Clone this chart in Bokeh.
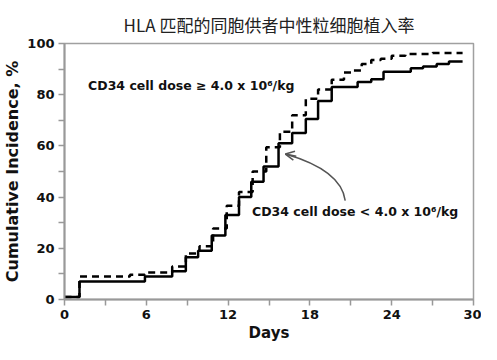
from bokeh.plotting import figure
from bokeh.models import Range1d, FixedTicker, Title, Label, Arrow, OpenHead
from bokeh.embed import file_html
from bokeh.resources import INLINE

# Cumulative incidence (step after each day value)
low_days = [0, 1.1, 5.9, 7.9, 8.9, 9.8, 10.8, 11.8, 12.8, 13.7, 14.6, 15.7, 16.7, 17.7,
            18.6, 19.6, 21.5, 22.5, 23.4, 25.4, 26.3, 27.3, 28.2, 29.2]
low_inc = [1, 7, 9, 11, 16.5, 19, 25, 33, 40, 46, 52, 61, 65, 70.5,
           77.5, 83, 85, 86, 89, 90.3, 91, 92, 93, 93]

high_days = [0, 1.1, 4.8, 5.9, 7.9, 8.9, 9.9, 10.9, 11.9, 12.8, 13.8, 14.8, 15.8, 16.7,
             17.7, 18.6, 19.6, 20.5, 21.2, 21.8, 22.5, 23.2, 24.0, 25.0, 27.0, 29.2]
high_inc = [1, 9, 9.7, 10.5, 12.9, 18, 20.8, 27.7, 36.6, 42, 50, 59.5, 65.5, 72,
            78.4, 82, 85.8, 88.7, 89.5, 92, 93.6, 94, 95.2, 95.9, 96.3, 96.3]

x_ticks = [0, 6, 12, 18, 24, 30]
x_minor = [3, 9, 15, 21, 27]
y_ticks = [0, 20, 40, 60, 80, 100]
y_minor = [10, 30, 50, 70, 90]

title_text = "HLA 匹配的同胞供者中性粒细胞植入率"
label_high = "CD34 cell dose \u2265 4.0 x 10\u2076/kg"
label_low = "CD34 cell dose < 4.0 x 10\u2076/kg"

p = figure(width=481, height=344, output_backend="svg", toolbar_location=None,
           x_range=Range1d(0, 30), y_range=Range1d(0, 100),
           min_border_left=61, min_border_right=8, min_border_top=43, min_border_bottom=44)
p.title = None
p.add_layout(Title(text=title_text, align="center", text_font="Noto Sans CJK SC",
                   text_font_size="17px", text_font_style="normal", text_color="#222222",
                   standoff=14), "above")

p.xgrid.visible = False
p.ygrid.visible = False
p.outline_line_color = "#a0a0a0"
p.outline_line_width = 1.5
p.background_fill_color = "white"
p.border_fill_color = "white"

p.step(low_days, low_inc, mode="after", line_color="black", line_width=2.5)
p.step(high_days, high_inc, mode="after", line_color="black", line_width=2.5, line_dash="7 5")

for ax, ticks, minor in ((p.xaxis[0], x_ticks, x_minor), (p.yaxis[0], y_ticks, y_minor)):
    ax.ticker = FixedTicker(ticks=ticks, minor_ticks=minor)
    ax.axis_line_color = "#999999"
    ax.axis_line_width = 2
    ax.major_tick_line_color = "#999999"
    ax.minor_tick_line_color = "#999999"
    ax.major_tick_line_width = 1.5
    ax.minor_tick_line_width = 1.5
    ax.major_tick_in = 0
    ax.major_tick_out = 6
    ax.minor_tick_in = 0
    ax.minor_tick_out = 6
    ax.major_label_text_font = "DejaVu Sans"
    ax.major_label_text_font_style = "bold"
    ax.major_label_text_font_size = "13px"
    ax.major_label_text_color = "#111111"
    ax.axis_label_text_font = "DejaVu Sans"
    ax.axis_label_text_font_style = "bold"
    ax.axis_label_text_color = "#111111"
    ax.major_label_standoff = 4
    ax.axis_label_standoff = 2

p.xaxis.axis_label = "Days"
p.xaxis.axis_label_text_font_size = "15px"
p.yaxis.axis_label = "Cumulative Incidence, %"
p.yaxis.axis_label_text_font_size = "16px"

p.add_layout(Label(x=1.73, y=83.4, text=label_high, text_font="DejaVu Sans",
                   text_font_style="bold", text_font_size="12.5px", text_baseline="middle",
                   text_color="#111111"))
p.add_layout(Label(x=13.75, y=34.4, text=label_low, text_font="DejaVu Sans",
                   text_font_style="bold", text_font_size="12.5px", text_baseline="middle",
                   text_color="#111111"))

p.quadratic(x0=[20.59], y0=[38.6], x1=[16.2], y1=[56.8], cx=[20.3], cy=[50.5],
            line_color="#555555", line_width=1.5)
p.add_layout(Arrow(end=OpenHead(size=9, line_color="#555555", line_width=1.5),
                   x_start=17.0, y_start=56.0, x_end=16.2, y_end=56.8,
                   line_color="#555555", line_width=1.5))

open("out.html", "w").write(file_html(p, INLINE))
